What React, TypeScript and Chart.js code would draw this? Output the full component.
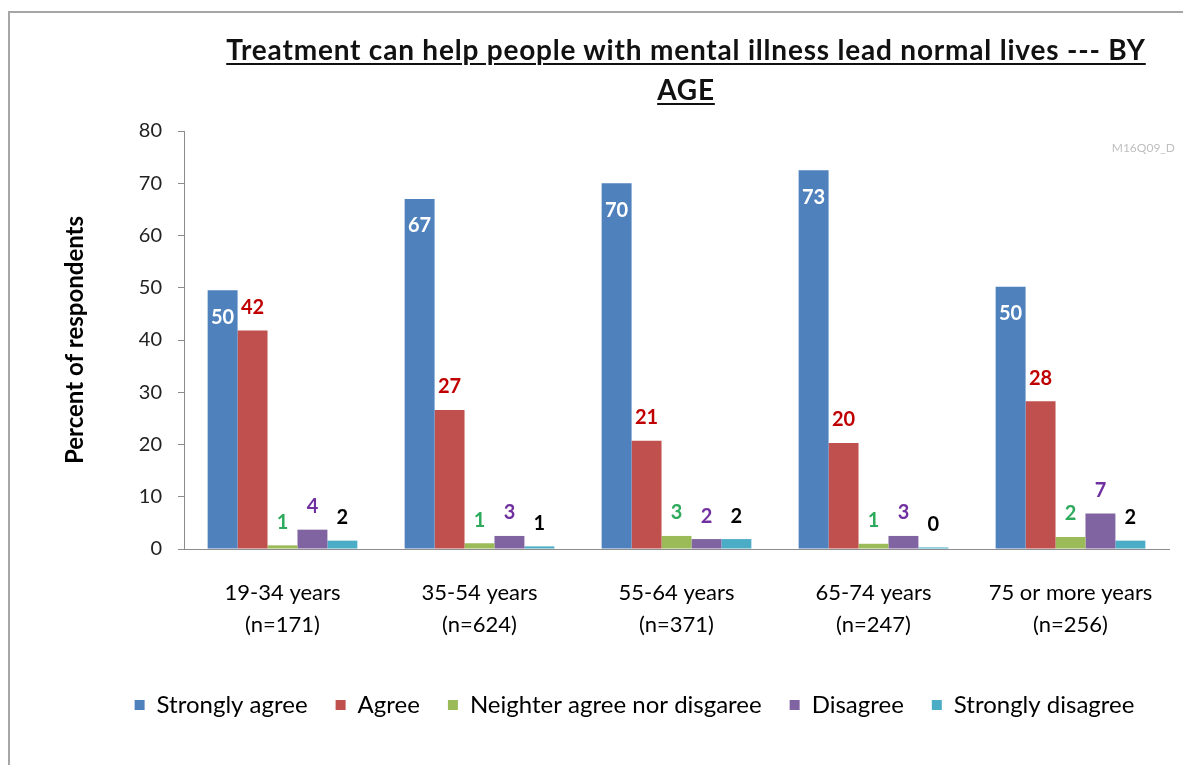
import React, { useEffect, useRef } from "react";
import { Chart, registerables } from "chart.js";

Chart.register(...registerables);

const categories: string[][] = [
  ["19-34 years", "(n=171)"],
  ["35-54 years", "(n=624)"],
  ["55-64 years", "(n=371)"],
  ["65-74 years", "(n=247)"],
  ["75 or more years", "(n=256)"],
];
const seriesNames = [
  "Strongly agree",
  "Agree",
  "Neighter agree nor disgaree",
  "Disagree",
  "Strongly disagree",
];
const stronglyAgree = [49.5, 67.0, 70.0, 72.5, 50.2];
const agree = [41.8, 26.6, 20.7, 20.3, 28.3];
const neither = [0.7, 1.1, 2.5, 1.0, 2.3];
const disagree = [3.7, 2.5, 1.9, 2.5, 6.8];
const stronglyDisagree = [1.6, 0.5, 1.9, 0.3, 1.6];
const yTicks = [0, 10, 20, 30, 40, 50, 60, 70, 80];

const barColors = ["#4F81BD", "#C0504D", "#9BBB59", "#8064A2", "#4BACC6"];
const labelColors = ["#FFFFFF", "#C00000", "#2EAA5C", "#7030A0", "#000000"];

const FONT = "Lato, 'Open Sans', sans-serif";

const labelPlugin = {
  id: "valueLabels",
  afterDatasetsDraw(chart: any) {
    const ctx = chart.ctx;
    ctx.save();
    ctx.font = `bold 20px ${FONT}`;
    ctx.textAlign = "center";
    ctx.textBaseline = "middle";
    chart.data.datasets.forEach((ds: any, di: number) => {
      const meta = chart.getDatasetMeta(di);
      meta.data.forEach((bar: any, i: number) => {
        const v = ds.data[i];
        const txt = String(Math.round(v));
        ctx.fillStyle = labelColors[di];
        const y = di === 0 ? bar.y + 27 : bar.y - 23;
        ctx.fillText(txt, bar.x, y);
      });
    });
    ctx.restore();
  },
};

export default function App() {
  const ref = useRef<HTMLCanvasElement | null>(null);
  useEffect(() => {
    if (!ref.current) return;
    const data = [stronglyAgree, agree, neither, disagree, stronglyDisagree];
    const chart = new Chart(ref.current, {
      type: "bar",
      data: {
        labels: categories,
        datasets: data.map((d, i) => ({
          label: seriesNames[i],
          data: d,
          backgroundColor: barColors[i],
          borderWidth: 0,
          categoryPercentage: 0.76,
          barPercentage: 1.0,
        })),
      },
      options: {
        animation: false,
        responsive: false,
        layout: { padding: { top: 118, left: 90, right: 22, bottom: 38 } },
        plugins: {
          title: { display: false },
          tooltip: { enabled: false },
          legend: {
            position: "bottom",
            labels: {
              boxWidth: 10,
              boxHeight: 10,
              padding: 28,
              color: "#000",
              font: { family: FONT, size: 24 },
            },
          },
        },
        scales: {
          x: {
            grid: { display: false, drawTicks: false },
            border: { display: true, color: "#8C8C8C", width: 1 },
            ticks: {
              color: "#000",
              padding: 28,
              font: { family: FONT, size: 22, lineHeight: 1.45 },
              maxRotation: 0,
              autoSkip: false,
            },
            afterFit(scale: any) {
              scale.height = 116;
            },
          },
          y: {
            min: 0,
            max: 80,
            afterBuildTicks(scale: any) {
              scale.ticks = yTicks.map((v) => ({ value: v }));
            },
            grid: {
              drawOnChartArea: false,
              drawTicks: true,
              tickLength: 6,
              color: "#8C8C8C",
            },
            border: { display: true, color: "#8C8C8C", width: 1 },
            ticks: {
              color: "#222",
              padding: 16,
              font: { family: FONT, size: 20 },
            },
            title: {
              display: true,
              text: "Percent of respondents",
              color: "#000",
              padding: { top: -39, bottom: 0 },
              font: { family: FONT, size: 24, weight: "bold" },
            },
            afterFit(scale: any) {
              scale.width = 84;
            },
          },
        },
      },
      plugins: [labelPlugin],
    });
    return () => chart.destroy();
  }, []);

  return (
    <div
      style={{
        position: "relative",
        marginTop: 3,
        width: 1183,
        height: 754,
        borderTop: "2px solid #A6A6A6",
        borderLeft: "2px solid #A6A6A6",
        boxSizing: "border-box",
        overflow: "hidden",
        background: "#fff",
      }}
    >
      <canvas
        ref={ref}
        width={1181}
        height={752}
        style={{ position: "absolute", left: 0, top: 0 }}
      />
      <div
        style={{
          position: "absolute",
          left: 176,
          top: 16,
          width: 1000,
          textAlign: "center",
          fontFamily: FONT,
          fontWeight: "bold",
          fontSize: 28,
          letterSpacing: "0.8px",
          lineHeight: "40px",
          color: "#111",
          textDecoration: "underline",
          textDecorationThickness: "2px",
          textUnderlineOffset: "3px",
        }}
      >
        Treatment can help people with mental illness lead normal lives --- BY
        <br />
        AGE
      </div>
      <div
        style={{
          position: "absolute",
          right: 16,
          top: 127,
          fontFamily: FONT,
          fontSize: 12,
          color: "#BFBFBF",
        }}
      >
        M16Q09_D
      </div>
    </div>
  );
}
